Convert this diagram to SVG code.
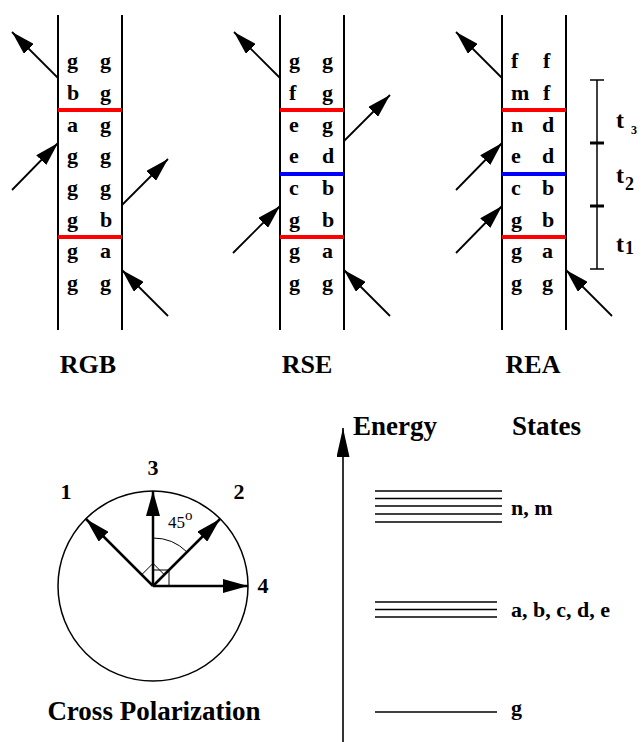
<svg xmlns="http://www.w3.org/2000/svg" width="644" height="742" viewBox="0 0 644 742">
<defs>
<marker id="ah" viewBox="0 0 24 14" refX="24" refY="7" markerWidth="24" markerHeight="14" markerUnits="userSpaceOnUse" orient="auto"><path d="M0,0 L24,7 L0,14 z" fill="#000"/></marker>
<marker id="ah2" viewBox="0 0 25 14" refX="25" refY="7" markerWidth="25" markerHeight="14" markerUnits="userSpaceOnUse" orient="auto"><path d="M0,0 L25,7 L0,14 z" fill="#000"/></marker>
<marker id="ah3" viewBox="0 0 29 13" refX="29" refY="6.5" markerWidth="29" markerHeight="13" markerUnits="userSpaceOnUse" orient="auto"><path d="M0,0 L29,6.5 L0,13 z" fill="#000"/></marker>
</defs>

<g id="panel-RGB">
<g stroke="#000" stroke-width="2"><line x1="58" y1="15" x2="58" y2="330"/><line x1="122" y1="15" x2="122" y2="330"/></g>
<g stroke="#f00" stroke-width="4"><line x1="58" y1="110" x2="122" y2="110"/><line x1="58" y1="237" x2="122" y2="237"/></g>
<text style="font-family:'Liberation Serif','Times New Roman',serif;font-weight:bold;font-size:22px"><tspan x="67" y="68">g</tspan><tspan x="100" y="68">g</tspan>
<tspan x="67" y="100">b</tspan><tspan x="100" y="100">g</tspan>
<tspan x="67" y="131.5">a</tspan><tspan x="100" y="131.5">g</tspan>
<tspan x="67" y="163">g</tspan><tspan x="100" y="163">g</tspan>
<tspan x="67" y="195">g</tspan><tspan x="100" y="195">g</tspan>
<tspan x="67" y="226.5">g</tspan><tspan x="100" y="226.5">b</tspan>
<tspan x="67" y="258">g</tspan><tspan x="100" y="258">a</tspan>
<tspan x="67" y="290">g</tspan><tspan x="100" y="290">g</tspan></text>
<text style="font-family:'Liberation Serif','Times New Roman',serif;font-weight:bold;font-size:26px" x="88" y="373" text-anchor="middle">RGB</text>
</g>

<g id="panel-RSE">
<g stroke="#000" stroke-width="2"><line x1="280" y1="15" x2="280" y2="330"/><line x1="344" y1="15" x2="344" y2="330"/></g>
<g stroke="#f00" stroke-width="4"><line x1="280" y1="110" x2="344" y2="110"/><line x1="280" y1="237" x2="344" y2="237"/></g>
<line stroke="#00f" stroke-width="4" x1="280" y1="174" x2="344" y2="174"/>
<text style="font-family:'Liberation Serif','Times New Roman',serif;font-weight:bold;font-size:22px"><tspan x="289" y="68">g</tspan><tspan x="322" y="68">g</tspan>
<tspan x="289" y="100">f</tspan><tspan x="322" y="100">g</tspan>
<tspan x="289" y="131.5">e</tspan><tspan x="322" y="131.5">g</tspan>
<tspan x="289" y="163">e</tspan><tspan x="322" y="163">d</tspan>
<tspan x="289" y="195">c</tspan><tspan x="322" y="195">b</tspan>
<tspan x="289" y="226.5">g</tspan><tspan x="322" y="226.5">b</tspan>
<tspan x="289" y="258">g</tspan><tspan x="322" y="258">a</tspan>
<tspan x="289" y="290">g</tspan><tspan x="322" y="290">g</tspan></text>
<text style="font-family:'Liberation Serif','Times New Roman',serif;font-weight:bold;font-size:26px" x="307" y="373" text-anchor="middle">RSE</text>
</g>

<g id="panel-REA">
<g stroke="#000" stroke-width="2"><line x1="502" y1="15" x2="502" y2="330"/><line x1="566" y1="15" x2="566" y2="330"/></g>
<g stroke="#f00" stroke-width="4"><line x1="502" y1="110" x2="566" y2="110"/><line x1="502" y1="237" x2="566" y2="237"/></g>
<line stroke="#00f" stroke-width="4" x1="502" y1="174" x2="566" y2="174"/>
<text style="font-family:'Liberation Serif','Times New Roman',serif;font-weight:bold;font-size:22px"><tspan x="511" y="68">f</tspan><tspan x="543" y="68">f</tspan>
<tspan x="511" y="100">m</tspan><tspan x="543" y="100">f</tspan>
<tspan x="511" y="131.5">n</tspan><tspan x="542" y="131.5">d</tspan>
<tspan x="511" y="163">e</tspan><tspan x="542" y="163">d</tspan>
<tspan x="511" y="195">c</tspan><tspan x="542" y="195">b</tspan>
<tspan x="511" y="226.5">g</tspan><tspan x="542" y="226.5">b</tspan>
<tspan x="511" y="258">g</tspan><tspan x="542" y="258">a</tspan>
<tspan x="511" y="290">g</tspan><tspan x="542" y="290">g</tspan></text>
<text style="font-family:'Liberation Serif','Times New Roman',serif;font-weight:bold;font-size:26px" x="533" y="373" text-anchor="middle">REA</text>
</g>

<g id="timeline">
<g stroke="#000" stroke-width="1.5"><line x1="597" y1="80" x2="597" y2="269"/><line x1="590" y1="80" x2="604" y2="80"/><line x1="590" y1="269" x2="604" y2="269"/></g>
<g stroke="#000" stroke-width="3"><line x1="590" y1="143" x2="604" y2="143"/><line x1="590" y1="206" x2="604" y2="206"/></g>
<text style="font-family:'Liberation Serif','Times New Roman',serif;font-weight:bold;font-size:24px" x="616" y="128">t<tspan style="font-size:12px" x="631" y="134">3</tspan></text>
<text style="font-family:'Liberation Serif','Times New Roman',serif;font-weight:bold;font-size:24px" x="616" y="183">t<tspan style="font-size:18px" x="625" y="190">2</tspan></text>
<text style="font-family:'Liberation Serif','Times New Roman',serif;font-weight:bold;font-size:24px" x="616" y="252">t<tspan style="font-size:18px" x="625" y="254">1</tspan></text>
</g>

<g id="connectors" stroke="#000" stroke-width="1.8" fill="none" marker-end="url(#ah)">
<line x1="58" y1="78" x2="12" y2="32"/>
<line x1="12" y1="190" x2="58" y2="143"/>
<line x1="122" y1="205" x2="168" y2="159"/>
<line x1="168" y1="316" x2="122" y2="270"/>
<line x1="280" y1="78" x2="234" y2="32"/>
<line x1="344" y1="141" x2="390" y2="95"/>
<line x1="233" y1="253" x2="280" y2="206"/>
<line x1="390" y1="316" x2="344" y2="270"/>
<line x1="502" y1="78" x2="456" y2="32"/>
<line x1="456" y1="190" x2="502" y2="143"/>
<line x1="456" y1="253" x2="502" y2="206"/>
<line x1="612" y1="316" x2="566" y2="270"/>
</g>

<g id="cross-polarization">
<circle cx="153" cy="586" r="95" stroke="#000" stroke-width="1.5" fill="none"/>
<g stroke="#000" stroke-width="1" fill="none">
<path d="M153,586 h16 v-16 h-16"/>
<path d="M153,586 L141.7,574.7 L153,563.4 L164.3,574.7"/>
<path d="M153,538 A48,48 0 0 1 187,552"/>
</g>
<g stroke="#000" stroke-width="2.5" fill="none" marker-end="url(#ah2)">
<line x1="153" y1="586" x2="153" y2="491"/>
<line x1="153" y1="586" x2="248" y2="586"/>
<line x1="153" y1="586" x2="220" y2="519"/>
<line x1="153" y1="586" x2="86" y2="519"/>
</g>
<text style="font-family:'Liberation Serif','Times New Roman',serif;font-weight:bold;font-size:22px" x="153" y="475" text-anchor="middle">3</text>
<text style="font-family:'Liberation Serif','Times New Roman',serif;font-weight:bold;font-size:22px" x="66" y="499" text-anchor="middle">1</text>
<text style="font-family:'Liberation Serif','Times New Roman',serif;font-weight:bold;font-size:22px" x="239" y="499" text-anchor="middle">2</text>
<text style="font-family:'Liberation Serif','Times New Roman',serif;font-weight:bold;font-size:22px" x="263" y="593" text-anchor="middle">4</text>
<text style="font-family:'Liberation Serif','Times New Roman',serif;font-size:17px" x="168" y="528">45<tspan style="font-size:15px" y="520">o</tspan></text>
<text style="font-family:'Liberation Serif','Times New Roman',serif;font-weight:bold;font-size:27px" x="154" y="720" text-anchor="middle">Cross Polarization</text>
</g>

<g id="energy-levels">
<line stroke="#000" stroke-width="1.6" x1="343" y1="742" x2="343" y2="428" marker-end="url(#ah3)"/>
<text style="font-family:'Liberation Serif','Times New Roman',serif;font-weight:bold;font-size:27px" x="353" y="435">Energy</text>
<text style="font-family:'Liberation Serif','Times New Roman',serif;font-weight:bold;font-size:27px" x="512" y="435">States</text>
<g stroke="#000" stroke-width="1.6">
<line x1="375" y1="491" x2="502" y2="491"/>
<line x1="375" y1="498.5" x2="502" y2="498.5"/>
<line x1="375" y1="506" x2="502" y2="506"/>
<line x1="375" y1="514" x2="502" y2="514"/>
<line x1="375" y1="522" x2="502" y2="522"/>
<line x1="375" y1="602" x2="497" y2="602"/>
<line x1="375" y1="609.5" x2="497" y2="609.5"/>
<line x1="375" y1="617" x2="497" y2="617"/>
<line x1="375" y1="712" x2="497" y2="712"/>
</g>
<text style="font-family:'Liberation Serif','Times New Roman',serif;font-weight:bold;font-size:22px" x="511" y="515">n, m</text>
<text style="font-family:'Liberation Serif','Times New Roman',serif;font-weight:bold;font-size:22px" x="511" y="617">a, b, c, d, e</text>
<text style="font-family:'Liberation Serif','Times New Roman',serif;font-weight:bold;font-size:22px" x="511" y="715">g</text>
</g>
</svg>
